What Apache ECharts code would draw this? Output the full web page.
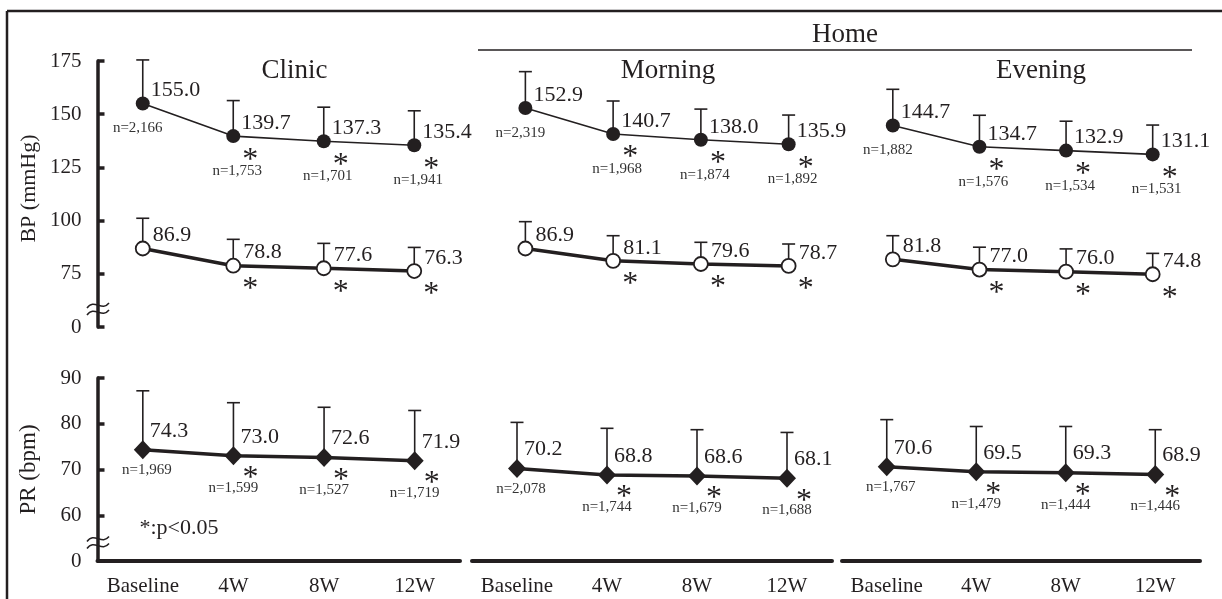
<!DOCTYPE html>
<html>
<head>
<meta charset="utf-8">
<title>BP and PR over 12 weeks</title>
<script src="https://cdn.jsdelivr.net/npm/echarts@6/dist/echarts.min.js"></script>
<style>
  html, body { margin: 0; padding: 0; background: #fff; }
  #chart { width: 1222px; height: 599px; }
</style>
</head>
<body>
<div id="chart"></div>
<script>
const categories = ['Baseline', '4W', '8W', '12W'];
const significant = [false, true, true, true];

// Clinic
const clinicSBP = [155.0, 139.7, 137.3, 135.4];
const clinicSBPsd = [20.5, 16.7, 16.0, 16.2];
const clinicDBP = [86.9, 78.8, 77.6, 76.3];
const clinicDBPsd = [14.2, 12.4, 11.7, 11.1];
const clinicBPn = [2166, 1753, 1701, 1941];
const clinicPR = [74.3, 73.0, 72.6, 71.9];
const clinicPRsd = [12.9, 11.6, 11.0, 11.0];
const clinicPRn = [1969, 1599, 1527, 1719];

// Home - morning
const morningSBP = [152.9, 140.7, 138.0, 135.9];
const morningSBPsd = [17.1, 15.5, 14.4, 13.7];
const morningDBP = [86.9, 81.1, 79.6, 78.7];
const morningDBPsd = [12.6, 11.8, 10.2, 10.3];
const morningBPn = [2319, 1968, 1874, 1892];
const morningPR = [70.2, 68.8, 68.6, 68.1];
const morningPRsd = [10.1, 10.2, 10.1, 10.0];
const morningPRn = [2078, 1744, 1679, 1688];

// Home - evening
const eveningSBP = [144.7, 134.7, 132.9, 131.1];
const eveningSBPsd = [17.0, 14.8, 13.8, 13.8];
const eveningDBP = [81.8, 77.0, 76.0, 74.8];
const eveningDBPsd = [11.1, 10.5, 10.7, 9.8];
const eveningBPn = [1882, 1576, 1534, 1531];
const eveningPR = [70.6, 69.5, 69.3, 68.9];
const eveningPRsd = [10.3, 9.9, 10.1, 9.8];
const eveningPRn = [1767, 1479, 1444, 1446];

// broken axes: the bottom tick is labelled 0
const bpAxis = { min: 50, max: 175, step: 25 };
const prAxis = { min: 50, max: 90, step: 10 };

const INK = '#231f20';
const SERIF = '"Liberation Serif", "Times New Roman", serif';

const panels = [
  { title: 'Clinic', sbp: clinicSBP, sbpSd: clinicSBPsd, dbp: clinicDBP, dbpSd: clinicDBPsd, bpN: clinicBPn, pr: clinicPR, prSd: clinicPRsd, prN: clinicPRn },
  { title: 'Morning', sbp: morningSBP, sbpSd: morningSBPsd, dbp: morningDBP, dbpSd: morningDBPsd, bpN: morningBPn, pr: morningPR, prSd: morningPRsd, prN: morningPRn },
  { title: 'Evening', sbp: eveningSBP, sbpSd: eveningSBPsd, dbp: eveningDBP, dbpSd: eveningDBPsd, bpN: eveningBPn, pr: eveningPR, prSd: eveningPRsd, prN: eveningPRn }
];

// layout of the six plots
const upperGrids = [
  { left: 97.5, width: 362 },
  { left: 481.5, width: 351 },
  { left: 849.5, width: 346.5 }
];
const lowerGrids = [
  { left: 97.5, width: 362.5 },
  { left: 472, width: 360 },
  { left: 842, width: 358 }
];

function rows(mean, sd, n) {
  return categories.map((c, i) => [i, mean[i], sd[i], n ? n[i] : 0, significant[i] ? 1 : 0]);
}

// error bar (upward only) + value, asterisk and n labels
function makeRender(o) {
  return function (params, api) {
    const i = api.value(0);
    const mean = api.value(1);
    const sd = api.value(2);
    const n = api.value(3);
    const sig = api.value(4);
    const p = api.coord([i, mean]);
    const t = api.coord([i, mean + sd]);
    const kids = [
      { type: 'line', shape: { x1: p[0], y1: p[1], x2: t[0], y2: t[1] }, style: { stroke: INK, lineWidth: 1.6 } },
      { type: 'line', shape: { x1: t[0] - 6.5, y1: t[1], x2: t[0] + 6.5, y2: t[1] }, style: { stroke: INK, lineWidth: 1.6 } },
      { type: 'text', style: { text: mean.toFixed(1), x: p[0] + o.val[0], y: p[1] + o.val[1], font: '22px ' + SERIF, fill: INK, align: 'left', verticalAlign: 'middle' } }
    ];
    if (sig) {
      kids.push({ type: 'text', style: { text: '*', x: p[0] + 17, y: p[1] + o.star, font: '32px ' + SERIF, fill: INK, align: 'center', verticalAlign: 'middle' } });
    }
    if (n) {
      const off = i === 0 ? o.n0 : o.n;
      kids.push({ type: 'text', style: { text: 'n=' + n.toLocaleString('en-US'), x: p[0] + off[0], y: p[1] + off[1], font: '15px ' + SERIF, fill: '#333', align: 'center', verticalAlign: 'middle' } });
    }
    return { type: 'group', children: kids };
  };
}

const sbpLabels = { val: [8, -13], star: 24, n0: [-5, 25], n: [4, 35] };
const dbpLabels = { val: [10, -13], star: 24 };
const prLabels = { val: [7, -19], star: 23, n0: [4, 20], n: [0, 32] };

const grid = [];
const xAxis = [];
const yAxis = [];
const series = [];

panels.forEach((pn, k) => {
  const ug = 2 * k, lg = 2 * k + 1;

  // upper plot: blood pressure
  grid.push({ left: upperGrids[k].left, width: upperGrids[k].width, top: 61, height: 266 });
  xAxis.push({ type: 'category', gridIndex: ug, data: categories, show: false });
  yAxis.push({
    type: 'value', gridIndex: ug, min: bpAxis.min, max: bpAxis.max, interval: bpAxis.step,
    show: k === 0,
    name: k === 0 ? 'BP (mmHg)' : '', nameLocation: 'middle', nameGap: 57,
    nameTextStyle: { fontFamily: SERIF, fontSize: 22, color: INK, padding: [0, 0, 0, 11] },
    axisLine: { show: true, lineStyle: { color: INK, width: 3.5 } },
    axisTick: { show: true, inside: true, length: 7, lineStyle: { color: INK, width: 3.5 } },
    axisLabel: { fontFamily: SERIF, fontSize: 21, color: INK, margin: 16, formatter: v => (v === bpAxis.min ? '0' : String(v)) },
    splitLine: { show: false }
  });
  series.push({
    type: 'custom', xAxisIndex: ug, yAxisIndex: ug, z: 2, silent: true,
    renderItem: makeRender(sbpLabels), data: rows(pn.sbp, pn.sbpSd, pn.bpN)
  });
  series.push({
    type: 'custom', xAxisIndex: ug, yAxisIndex: ug, z: 2, silent: true,
    renderItem: makeRender(dbpLabels), data: rows(pn.dbp, pn.dbpSd, null)
  });
  series.push({
    type: 'line', xAxisIndex: ug, yAxisIndex: ug, z: 3, data: pn.sbp,
    symbol: 'circle', symbolSize: 14,
    itemStyle: { color: INK },
    lineStyle: { color: INK, width: 1.6 }
  });
  series.push({
    type: 'line', xAxisIndex: ug, yAxisIndex: ug, z: 3, data: pn.dbp,
    symbol: 'circle', symbolSize: 14,
    itemStyle: { color: '#fff', borderColor: INK, borderWidth: 1.8 },
    lineStyle: { color: INK, width: 3.5 }
  });

  // lower plot: pulse rate
  grid.push({ left: lowerGrids[k].left, width: lowerGrids[k].width, top: 378, height: 183 });
  xAxis.push({
    type: 'category', gridIndex: lg, data: categories,
    axisLine: { lineStyle: { color: INK, width: 4, cap: 'round' } },
    axisTick: { show: false },
    axisLabel: { fontFamily: SERIF, fontSize: 21, color: INK, margin: 15, interval: 0 }
  });
  yAxis.push({
    type: 'value', gridIndex: lg, min: prAxis.min, max: prAxis.max, interval: prAxis.step,
    show: k === 0,
    name: k === 0 ? 'PR (bpm)' : '', nameLocation: 'middle', nameGap: 57,
    nameTextStyle: { fontFamily: SERIF, fontSize: 23, color: INK },
    axisLine: { show: true, lineStyle: { color: INK, width: 3.5 } },
    axisTick: { show: true, inside: true, length: 7, lineStyle: { color: INK, width: 3.5 } },
    axisLabel: { fontFamily: SERIF, fontSize: 21, color: INK, margin: 16, formatter: v => (v === prAxis.min ? '0' : String(v)) },
    splitLine: { show: false }
  });
  series.push({
    type: 'custom', xAxisIndex: lg, yAxisIndex: lg, z: 2, silent: true,
    renderItem: makeRender(prLabels), data: rows(pn.pr, pn.prSd, pn.prN)
  });
  series.push({
    type: 'line', xAxisIndex: lg, yAxisIndex: lg, z: 3, data: pn.pr,
    symbol: 'diamond', symbolSize: [18, 19],
    itemStyle: { color: INK },
    lineStyle: { color: INK, width: 3.5 }
  });
});

// "≈" mark where the axis is broken
function axisBreak(cx, cy) {
  const wave = y => ({
    type: 'bezierCurve',
    shape: { x1: cx - 11, y1: y + 2, cpx1: cx - 4, cpy1: y - 8, cpx2: cx + 4, cpy2: y + 6, x2: cx + 11, y2: y - 3 },
    style: { stroke: INK, lineWidth: 1.5, fill: null }
  });
  return {
    type: 'group', z: 100,
    children: [
      { type: 'rect', shape: { x: cx - 5, y: cy - 3.5, width: 10, height: 7 }, style: { fill: '#fff' } },
      wave(cy - 3.5),
      wave(cy + 3.5)
    ]
  };
}

function label(text, x, y, size) {
  return { type: 'text', z: 100, style: { text: text, x: x, y: y, font: size + 'px ' + SERIF, fill: INK, align: 'center', verticalAlign: 'middle' } };
}

const graphic = [
  { type: 'line', shape: { x1: 7, y1: 11, x2: 1222, y2: 11 }, style: { stroke: INK, lineWidth: 2.5 } },
  { type: 'line', shape: { x1: 7, y1: 11, x2: 7, y2: 599 }, style: { stroke: INK, lineWidth: 2.5 } },
  { type: 'line', shape: { x1: 478, y1: 50, x2: 1192, y2: 50 }, style: { stroke: INK, lineWidth: 1.5 } },
  label('Home', 845, 35, 27),
  label('Clinic', 294.5, 71, 27),
  label('Morning', 668, 71, 27),
  label('Evening', 1041, 71, 27),
  label('*:p<0.05', 179, 528, 22),
  axisBreak(98, 309.5),
  axisBreak(98, 543)
];

const chart = echarts.init(document.getElementById('chart'));
chart.setOption({
  animation: false,
  backgroundColor: '#fff',
  grid: grid,
  xAxis: xAxis,
  yAxis: yAxis,
  series: series,
  graphic: graphic
});
</script>
</body>
</html>
